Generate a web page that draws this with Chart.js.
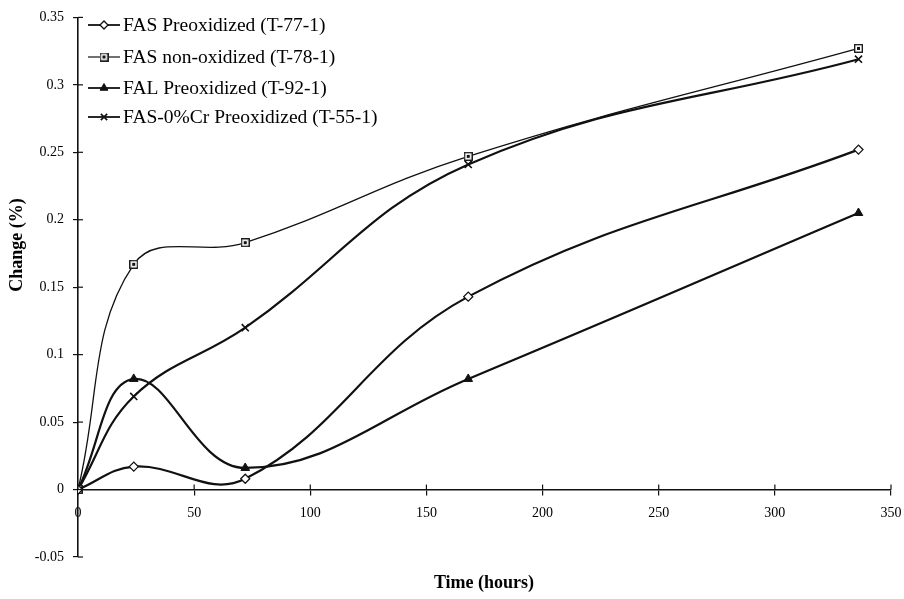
<!DOCTYPE html>
<html>
<head>
<meta charset="utf-8">
<script src="https://cdn.jsdelivr.net/npm/chart.js@4.4.1/dist/chart.umd.min.js"></script>
<style>
  html, body { margin: 0; padding: 0; background: #fff; }
  #wrap { width: 904px; height: 599px; }
</style>
</head>
<body>
<div id="wrap"><canvas id="chart" width="904" height="599"></canvas></div>
<script>
const hours = [0, 24, 72, 168, 336];
const fasPreox = [0, 0.017, 0.008, 0.143, 0.252];
const fasNonOx = [0, 0.167, 0.183, 0.247, 0.327];
const falPreox = [0, 0.082, 0.016, 0.082, 0.205];
const fas0CrPreox = [0, 0.069, 0.120, 0.241, 0.319];

const seriesNames = [
  'FAS Preoxidized (T-77-1)',
  'FAS non-oxidized (T-78-1)',
  'FAL Preoxidized (T-92-1)',
  'FAS-0%Cr Preoxidized (T-55-1)'
];

const INK = '#111';

// little square marker with a dot inside
function dottedSquare() {
  const c = document.createElement('canvas');
  c.width = 9; c.height = 9;
  const g = c.getContext('2d');
  g.fillStyle = '#fff';
  g.fillRect(0, 0, 9, 9);
  g.strokeStyle = INK;
  g.lineWidth = 1.3;
  g.strokeRect(0.7, 0.7, 7.6, 7.6);
  g.fillStyle = INK;
  g.fillRect(3, 3, 3, 3);
  return c;
}
const squareMark = dottedSquare();

function toPoints(ys) {
  return hours.map((h, i) => ({ x: h, y: ys[i] }));
}

const datasets = [
  { label: seriesNames[0], data: toPoints(fasPreox), borderWidth: 2.2,
    pointStyle: 'rectRot', pointRadius: 4.5, pointBackgroundColor: '#fff', pointBorderWidth: 1.3 },
  { label: seriesNames[1], data: toPoints(fasNonOx), borderWidth: 1.3,
    pointStyle: squareMark, pointRadius: 4.5, pointBackgroundColor: '#fff', pointBorderWidth: 1.3 },
  { label: seriesNames[2], data: toPoints(falPreox), borderWidth: 2.2,
    pointStyle: 'triangle', pointRadius: 5, pointBackgroundColor: INK, pointBorderWidth: 1 },
  { label: seriesNames[3], data: toPoints(fas0CrPreox), borderWidth: 2.2,
    pointStyle: 'crossRot', pointRadius: 5, pointBackgroundColor: INK, pointBorderWidth: 1.6 }
].map(d => Object.assign({
  borderColor: INK,
  pointBorderColor: INK,
  tension: 0.4,
  fill: false
}, d));

// inner half of the tick marks, legend and axis titles
const decorations = {
  id: 'decorations',
  afterDraw(chart) {
    const { ctx, scales: { x, y } } = chart;
    const x0 = x.getPixelForValue(0);
    const y0 = y.getPixelForValue(0);
    ctx.save();
    ctx.strokeStyle = INK;
    ctx.lineWidth = 1.2;
    y.ticks.forEach(t => {
      const p = y.getPixelForValue(t.value);
      ctx.beginPath(); ctx.moveTo(x0, p); ctx.lineTo(x0 + 5, p); ctx.stroke();
    });
    x.ticks.forEach(t => {
      const p = x.getPixelForValue(t.value);
      ctx.beginPath(); ctx.moveTo(p, y0); ctx.lineTo(p, y0 - 5); ctx.stroke();
    });

    // legend
    ctx.font = '19.5px "Liberation Serif"';
    ctx.textBaseline = 'middle';
    ctx.textAlign = 'left';
    const rows = [25, 57, 88, 117];
    chart.data.datasets.forEach((ds, i) => {
      const yy = rows[i];
      ctx.strokeStyle = INK;
      ctx.lineWidth = ds.borderWidth > 2 ? 1.8 : 1.2;
      ctx.beginPath(); ctx.moveTo(88, yy); ctx.lineTo(120, yy); ctx.stroke();
      ctx.fillStyle = ds.pointBackgroundColor;
      ctx.lineWidth = ds.pointBorderWidth;
      Chart.helpers.drawPoint(ctx, {
        pointStyle: ds.pointStyle, radius: ds.pointRadius - 0.5,
        rotation: 0, borderWidth: ds.pointBorderWidth
      }, 104, yy);
      ctx.fillStyle = '#000';
      ctx.fillText(ds.label, 123, yy + 1);
    });

    // axis titles
    ctx.font = 'bold 18px "Liberation Serif"';
    ctx.textAlign = 'center';
    ctx.fillText('Time (hours)', 484, 583);
    ctx.translate(17, 245);
    ctx.rotate(-Math.PI / 2);
    ctx.fillText('Change (%)', 0, 0);
    ctx.restore();
  }
};

Chart.defaults.font.family = '"Liberation Serif", serif';
Chart.defaults.color = '#000';

new Chart(document.getElementById('chart'), {
  type: 'line',
  data: { datasets },
  options: {
    responsive: false,
    animation: false,
    layout: { padding: { top: 17, right: 13, bottom: 42, left: 0 } },
    plugins: { legend: { display: false }, tooltip: { enabled: false } },
    scales: {
      x: {
        type: 'linear',
        position: { y: 0 },
        min: 0, max: 350,
        ticks: { stepSize: 50, padding: 10, font: { size: 14 }, maxRotation: 0 },
        grid: { drawOnChartArea: false, tickLength: 5, color: INK, lineWidth: 1.2 },
        border: { color: INK, width: 1.6 },
        afterFit: s => { s.paddingLeft = 0; s.paddingRight = 0; }
      },
      y: {
        min: -0.05, max: 0.35,
        ticks: {
          stepSize: 0.05, padding: 9, font: { size: 14 },
          callback: v => String(Number(v.toFixed(2)))
        },
        grid: { drawOnChartArea: false, tickLength: 5, color: INK, lineWidth: 1.2 },
        border: { color: INK, width: 1.6 },
        afterFit: s => { s.width = 78; }
      }
    }
  },
  plugins: [decorations]
});
</script>
</body>
</html>
